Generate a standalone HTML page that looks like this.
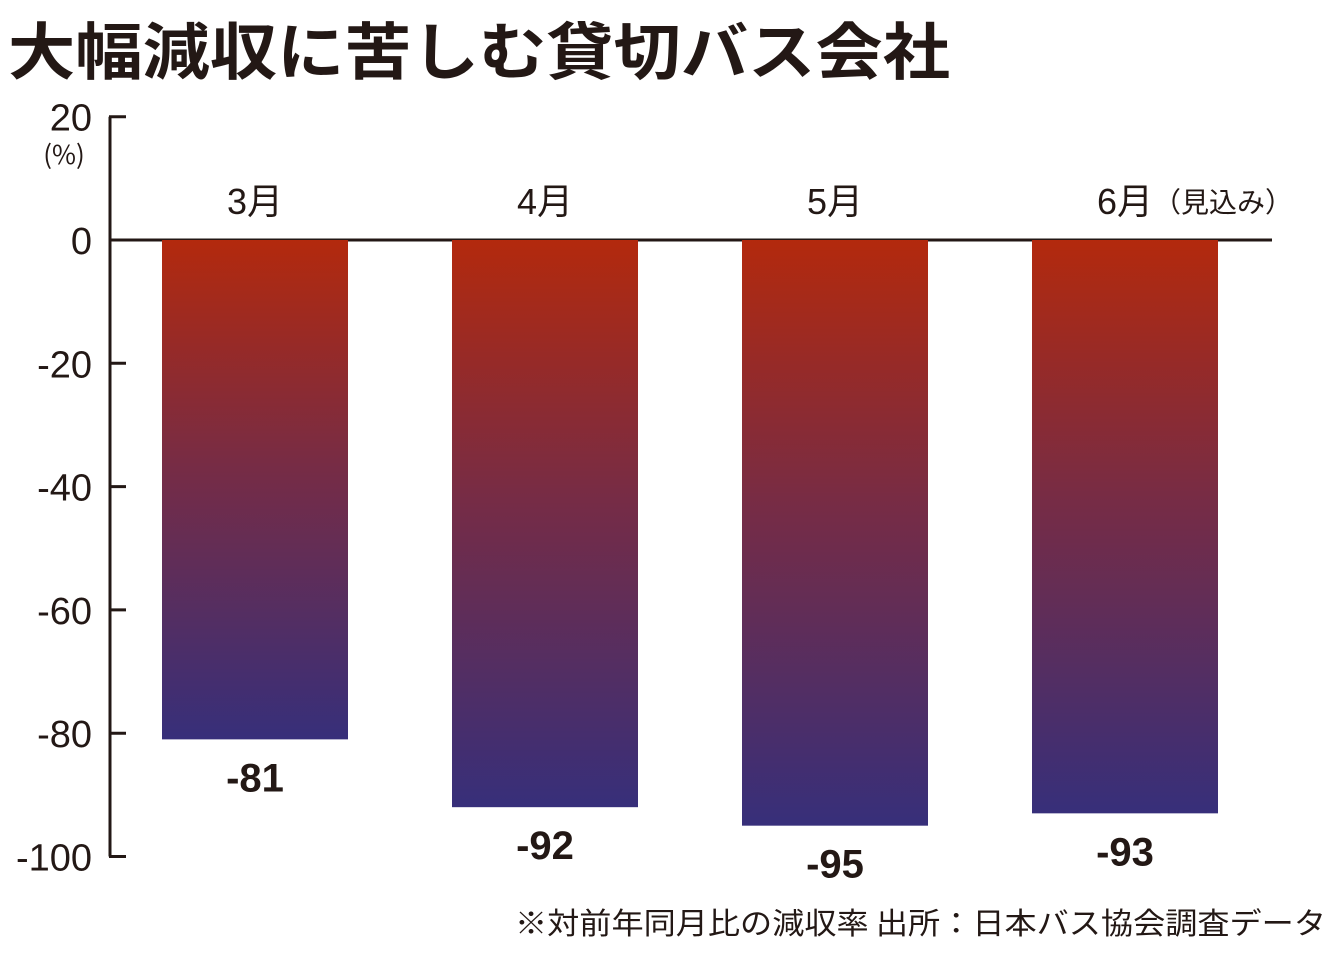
<!DOCTYPE html>
<html><head><meta charset="utf-8">
<style>
html,body{margin:0;padding:0;background:#fff;}
svg{display:block;font-family:"Liberation Sans","Noto Sans CJK JP",sans-serif;}
</style></head>
<body>
<svg id="chart" width="1340" height="956" viewBox="0 0 1340 956">
<defs>
<linearGradient id="barGrad" x1="0" y1="0" x2="0" y2="1">
<stop offset="0" stop-color="#b3290d"/>
<stop offset="0.45" stop-color="#772c45"/>
<stop offset="1" stop-color="#372f7a"/>
</linearGradient>
</defs>
<text x="8" y="74" font-size="62" font-weight="bold" fill="#231815" textLength="942" lengthAdjust="spacingAndGlyphs" font-family="'Noto Sans CJK JP',sans-serif">大幅減収に苦しむ貸切バス会社</text>
<text x="64" y="164" font-size="26" fill="#231815" text-anchor="middle" font-family="'Noto Sans CJK JP',sans-serif">(%)</text>
<g id="axis"></g>
<g id="bars"></g>
<text x="515" y="934" font-size="30" fill="#231815" textLength="811" lengthAdjust="spacingAndGlyphs" font-family="'Noto Sans CJK JP',sans-serif">※対前年同月比の減収率 出所：日本バス協会調査データ</text>
</svg>
<script>
const categories = ["3月","4月","5月","6月"];
const categorySuffix = ["","","","（見込み）"];
const values = [-81,-92,-95,-93];
const valueLabels = ["-81","-92","-95","-93"];
const yTicks = [20,0,-20,-40,-60,-80,-100];

const NS="http://www.w3.org/2000/svg";
function y(v){return 240 - v*6.165;}
function xc(i){return 255 + i*290;}
function mk(tag,attrs,parent,text){const e=document.createElementNS(NS,tag);for(const k in attrs)e.setAttribute(k,attrs[k]);if(text!==undefined)e.textContent=text;parent.appendChild(e);return e;}
const axis=document.getElementById('axis');
const bars=document.getElementById('bars');
let l=mk('line',{x1:110,x2:110,y1:y(20),y2:y(-100),stroke:'#231815','stroke-width':3},axis);


yTicks.forEach(t=>{
  if(t!==0){
    const tk=mk('line',{x1:109,x2:126,y1:y(t),y2:y(t),stroke:'#231815','stroke-width':3},axis);
    
    
  }
  const tl=mk('text',{x:92,y:y(t)+14,'font-size':38,fill:'#231815','text-anchor':'end'},axis,String(t));
  
  
});
categories.forEach((c,i)=>{
  const v=values[i];
  const r=mk('rect',{x:xc(i)-93,y:y(0),width:186,height:y(v)-y(0),fill:'url(#barGrad)'},bars);
  
  
  const vl=mk('text',{x:xc(i),y:y(v)+52,'font-size':40,'font-weight':'bold',fill:'#231815','text-anchor':'middle'},bars,valueLabels[i]);
  
  
  const cl=mk('text',{x:xc(i),y:214,'font-size':36,fill:'#231815','text-anchor':'middle'},bars,c);
  
  
  if(categorySuffix[i]){
    const s=mk('text',{x:xc(i)+28,y:212,'font-size':28,fill:'#231815'},bars,categorySuffix[i]);
    
    
  }
});
const z=mk('line',{x1:110,x2:1272,y1:y(0),y2:y(0),stroke:'#231815','stroke-width':3},axis);


</script>
</body></html>
